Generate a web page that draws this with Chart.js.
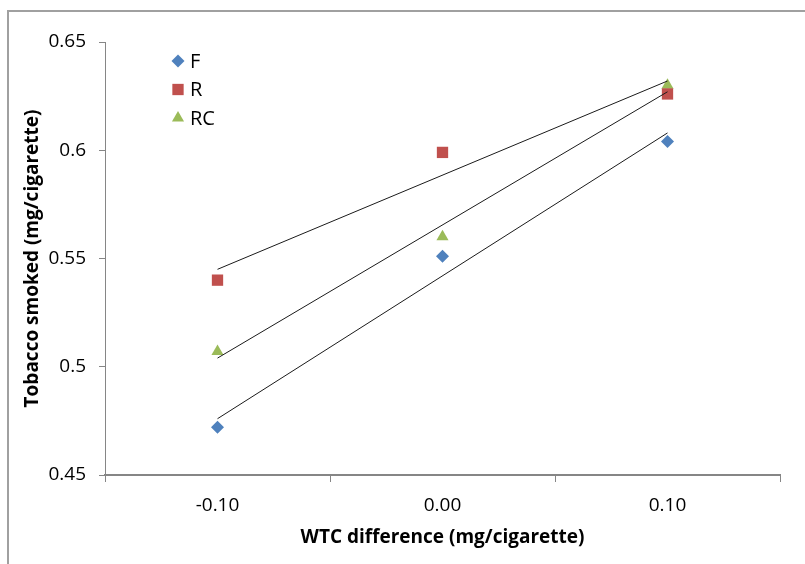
<!DOCTYPE html>
<html>
<head>
<meta charset="utf-8">
<script src="https://cdn.jsdelivr.net/npm/chart.js@4/dist/chart.umd.min.js"></script>
<style>
  html, body { margin: 0; padding: 0; background: #fff; overflow: hidden; }
  #wrap { position: relative; width: 805px; height: 564px; }
  #frame { position: absolute; left: 7px; top: 10px; width: 900px; height: 700px;
           border-top: 2px solid #a0a0a0; border-left: 2px solid #a0a0a0; }
  #chart { position: absolute; left: 0; top: 0; }
</style>
</head>
<body>
<div id="wrap">
  <div id="frame"></div>
  <canvas id="chart" width="805" height="564"></canvas>
</div>
<script>
const categories = ['-0.10', '0.00', '0.10']

// measured points
const seriesF = [0.472, 0.551, 0.604]
const seriesR = [0.540, 0.599, 0.626]
const seriesRC = [0.507, 0.560, 0.630]

// linear trendlines, ends
const trendF = [0.476, null, 0.608]
const trendR = [0.545, null, 0.632]
const trendRC = [0.504, null, 0.627]

const yMin = 0.45
const yMax = 0.65
const yStep = 0.05

const FONT = "'Open Sans', 'DejaVu Sans', sans-serif"
const axisGray = '#868686'

const pointSet = (label, data, color, style, radius) => ({
    label: label,
    data: data,
    showLine: false,
    pointStyle: style,
    pointRadius: radius,
    pointHoverRadius: radius,
    pointBackgroundColor: color,
    pointBorderColor: color,
    pointBorderWidth: 0,
    backgroundColor: color,
    borderColor: color,
    order: 1
})

const trendSet = (label, data) => ({
    label: label,
    data: data,
    spanGaps: true,
    borderColor: '#1a1a1a',
    borderWidth: 1,
    pointRadius: 0,
    pointHoverRadius: 0,
    fill: false,
    tension: 0,
    isTrend: true,
    order: 0
})

// legend drawn inside the plot, top left
const innerLegend = {
    id: 'innerLegend',
    afterDraw(chart) {
        const ctx = chart.ctx
        const items = chart.data.datasets.filter(d => !d.isTrend)
        ctx.save()
        ctx.font = '20px ' + FONT
        ctx.textBaseline = 'middle'
        ctx.textAlign = 'left'
        items.forEach((d, i) => {
            const y = 61 + i * 28.5
            ctx.fillStyle = d.pointBackgroundColor
            ctx.strokeStyle = d.pointBorderColor
            if (Chart.helpers && Chart.helpers.drawPoint) {
                Chart.helpers.drawPoint(ctx, {
                    pointStyle: d.pointStyle,
                    radius: d.pointRadius,
                    rotation: 0,
                    borderWidth: 0
                }, 178, y)
            }
            ctx.fillStyle = '#000'
            ctx.fillText(d.label, 190, y + 1)
        })
        ctx.restore()
    }
}

new Chart(document.getElementById('chart'), {
    type: 'line',
    data: {
        labels: categories,
        datasets: [
            trendSet('F trend', trendF),
            trendSet('R trend', trendR),
            trendSet('RC trend', trendRC),
            pointSet('F', seriesF, '#4F81BD', 'rectRot', 6.5),
            pointSet('R', seriesR, '#C0504D', 'rect', 8),
            pointSet('RC', seriesRC, '#9BBB59', 'triangle', 7)
        ]
    },
    options: {
        responsive: false,
        animation: false,
        events: [],
        layout: { padding: { left: 0, right: 25, top: 42, bottom: 0 } },
        plugins: {
            legend: { display: false },
            tooltip: { enabled: false }
        },
        scales: {
            x: {
                type: 'category',
                offset: true,
                grid: { offset: true, drawOnChartArea: false, tickLength: 7, color: axisGray },
                border: { color: axisGray, width: 2 },
                ticks: { color: '#000', padding: 12, font: { family: FONT, size: 19 } },
                title: {
                    display: true,
                    text: 'WTC difference (mg/cigarette)',
                    color: '#000',
                    font: { family: FONT, size: 19, weight: 'bold' },
                    padding: { top: 0, bottom: 15 }
                },
                afterFit(scale) { scale.height = 89 }
            },
            y: {
                min: yMin,
                max: yMax,
                grid: { drawOnChartArea: false, tickLength: 6, color: axisGray },
                border: { color: axisGray, width: 1 },
                ticks: {
                    stepSize: yStep,
                    color: '#000',
                    padding: 13,
                    font: { family: FONT, size: 19 },
                    callback: v => String(Number(v.toFixed(2)))
                },
                title: {
                    display: true,
                    text: 'Tobacco smoked (mg/cigarette)',
                    color: '#000',
                    font: { family: FONT, size: 19, weight: 'bold' },
                    padding: { top: 21, bottom: 0 }
                },
                afterFit(scale) { scale.width = 105 }
            }
        }
    },
    plugins: [innerLegend]
})
</script>
</body>
</html>
